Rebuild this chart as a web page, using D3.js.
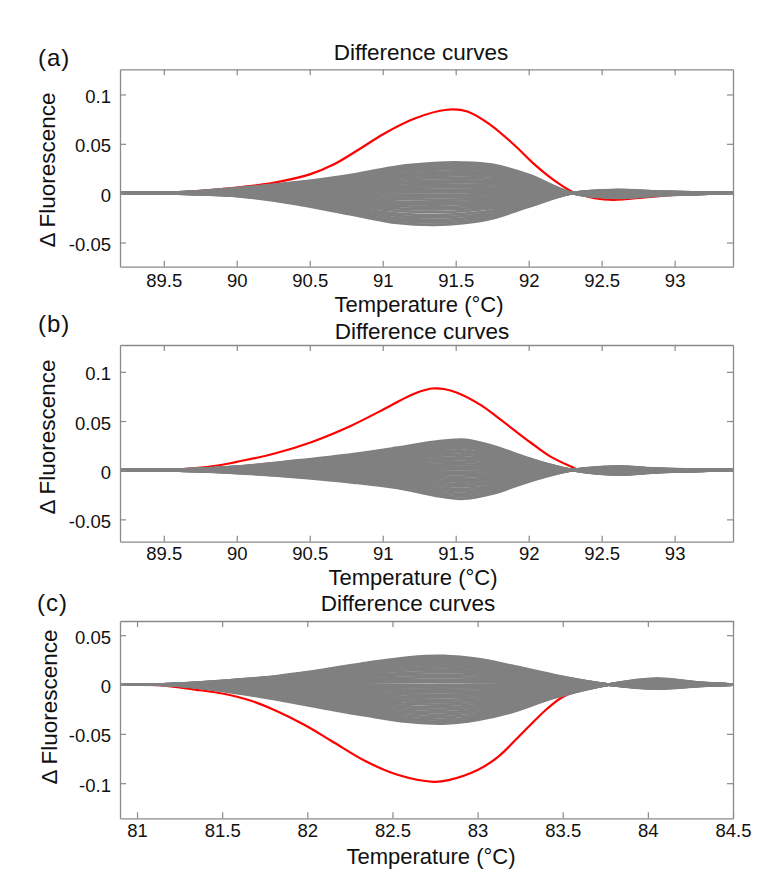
<!DOCTYPE html>
<html><head><meta charset="utf-8">
<script src="https://cdn.jsdelivr.net/npm/d3@7"></script>
<style>body{margin:0;background:#fff}</style>
</head><body>
<svg id="chart" width="780" height="880"></svg>
<script>
// ---------------- DATA ----------------
// Panel (a)
const gridA = [89.2, 89.6, 90.0, 90.4, 90.8, 91.1, 91.35, 91.55, 91.75, 92.0, 92.3, 92.6, 92.9, 93.4];
const grayA = [
 [0,.0008,.005,.0109,.0189,.027,.0304,.031,.0288,.0186,0,-.0047,-.0022,0],
 [0,.0007,.0047,.0103,.018,.0257,.0289,.0295,.0274,.0177,0,-.0044,-.0021,0],
 [0,.0007,.0045,.0098,.0171,.0244,.0274,.028,.026,.0168,0,-.0042,-.002,0],
 [0,.0007,.0042,.0091,.0159,.0226,.0255,.026,.0242,.0156,0,-.0039,-.0018,0],
 [0,.0006,.0039,.0086,.0149,.0213,.024,.0245,.0228,.0147,0,-.0037,-.0017,0],
 [0,.0006,.0035,.0077,.0134,.0191,.0216,.022,.0205,.0132,0,-.0033,-.0015,0],
 [0,.0005,.0032,.007,.0122,.0174,.0196,.02,.0186,.012,0,-.003,-.0014,0],
 [0,.0005,.0029,.0063,.011,.0157,.0176,.018,.0167,.0108,0,-.0027,-.0013,0],
 [0,.0004,.0025,.0054,.0095,.0135,.0152,.0155,.0144,.0093,0,-.0023,-.0011,0],
 [0,.0003,.0021,.0046,.0079,.0113,.0127,.013,.0121,.0078,0,-.002,-.0009,0],
 [0,.0003,.0018,.0039,.0067,.0096,.0108,.011,.0102,.0066,0,-.0017,-.0008,0],
 [0,.0002,.0014,.003,.0052,.0074,.0083,.0085,.0079,.0051,0,-.0013,-.0006,0],
 [0,.0002,.001,.0021,.0037,.0052,.0059,.006,.0056,.0036,0,-.0009,-.0004,0],
 [0,.0001,.0006,.0012,.0021,.003,.0034,.0035,.0033,.0021,0,-.0005,-.0002,0],
 [0,0,.0002,.0004,.0006,.0009,.001,.001,.0009,.0006,0,-.0002,-.0001,0],
 [0,0,-.0001,-.0005,-.001,-.0014,-.0015,-.0014,-.0012,-.0006,0,.0002,.0001,0],
 [0,-.0001,-.0004,-.0014,-.0028,-.0038,-.004,-.0038,-.0032,-.0017,0,.0004,.0002,0],
 [0,-.0001,-.0006,-.0022,-.0045,-.0061,-.0065,-.0062,-.0052,-.0028,0,.0007,.0003,0],
 [0,-.0001,-.0008,-.0031,-.0062,-.0085,-.009,-.0086,-.0072,-.0039,0,.0009,.0005,0],
 [0,-.0002,-.001,-.0039,-.0079,-.0108,-.0115,-.0109,-.0092,-.0049,0,.0012,.0006,0],
 [0,-.0002,-.0013,-.0048,-.0097,-.0132,-.014,-.0133,-.0112,-.006,0,.0014,.0007,0],
 [0,-.0002,-.0015,-.0056,-.0114,-.0155,-.0165,-.0157,-.0132,-.0071,0,.0017,.0008,0],
 [0,-.0003,-.0017,-.0065,-.0131,-.0179,-.019,-.0181,-.0152,-.0082,0,.0019,.001,0],
 [0,-.0003,-.002,-.0075,-.0152,-.0207,-.022,-.0209,-.0176,-.0095,0,.0022,.0011,0],
 [0,-.0004,-.0022,-.0083,-.0169,-.023,-.0245,-.0233,-.0196,-.0105,0,.0025,.0012,0],
 [0,-.0004,-.0024,-.0092,-.0186,-.0254,-.027,-.0257,-.0216,-.0116,0,.0027,.0014,0],
 [0,-.0004,-.0027,-.01,-.0204,-.0277,-.0295,-.028,-.0236,-.0127,0,.003,.0015,0],
 [0,-.0005,-.0029,-.0109,-.0221,-.0301,-.032,-.0304,-.0256,-.0138,0,.0032,.0016,0]
];
const redTempA = [89.2, 89.6, 90.0, 90.25, 90.5, 90.67, 90.85, 91.0, 91.21, 91.44, 91.58, 91.74, 91.9, 92.03, 92.17, 92.31, 92.45, 92.58, 92.81, 93.0, 93.2, 93.4];
const redValA  = [0, .001, .0057, .0105, .019, .0295, .0455, .0595, .0752, .0845, .0828, .069, .049, .0304, .0135, .0006, -.005, -.0068, -.004, -.0017, -.0005, 0];

// Panel (b)
const gridB = [89.2, 89.6, 90.0, 90.4, 90.8, 91.1, 91.35, 91.55, 91.75, 92.0, 92.3, 92.6, 92.9, 93.4];
const grayB = [
 [0,.0006,.0037,.0096,.0164,.0229,.0288,.031,.0248,.0121,0,-.0045,-.002,0],
 [0,.0006,.0035,.0091,.0156,.0218,.0274,.0295,.0236,.0115,0,-.0043,-.0019,0],
 [0,.0006,.0034,.0087,.0148,.0207,.026,.028,.0224,.0109,0,-.0041,-.0018,0],
 [0,.0005,.0031,.0081,.0138,.0192,.0242,.026,.0208,.0101,0,-.0038,-.0017,0],
 [0,.0005,.0029,.0076,.013,.0181,.0228,.0245,.0196,.0096,0,-.0036,-.0016,0],
 [0,.0005,.0027,.007,.0119,.0167,.0209,.0225,.018,.0088,0,-.0033,-.0015,0],
 [0,.0004,.0024,.0062,.0106,.0148,.0186,.02,.016,.0078,0,-.0029,-.0013,0],
 [0,.0004,.0022,.0056,.0095,.0133,.0167,.018,.0144,.007,0,-.0026,-.0012,0],
 [0,.0003,.0019,.0048,.0082,.0115,.0144,.0155,.0124,.006,0,-.0022,-.001,0],
 [0,.0003,.0016,.004,.0069,.0096,.0121,.013,.0104,.0051,0,-.0019,-.0008,0],
 [0,.0002,.0013,.0034,.0058,.0081,.0102,.011,.0088,.0043,0,-.0016,-.0007,0],
 [0,.0002,.001,.0026,.0045,.0063,.0079,.0085,.0068,.0033,0,-.0012,-.0006,0],
 [0,.0001,.0007,.0019,.0032,.0044,.0056,.006,.0048,.0023,0,-.0009,-.0004,0],
 [0,.0001,.0004,.0011,.0019,.0026,.0033,.0035,.0028,.0014,0,-.0005,-.0002,0],
 [0,0,.0001,.0003,.0005,.0007,.0009,.001,.0008,.0004,0,-.0001,-.0001,0],
 [0,0,-.0002,-.0004,-.0006,-.0009,-.0013,-.0015,-.0012,-.0006,0,.0002,.0001,0],
 [0,-.0001,-.0004,-.001,-.0017,-.0025,-.0035,-.004,-.0033,-.0016,0,.0005,.0002,0],
 [0,-.0001,-.0007,-.0016,-.0028,-.004,-.0057,-.0065,-.0053,-.0026,0,.0008,.0003,0],
 [0,-.0002,-.0009,-.0022,-.0039,-.0056,-.0079,-.009,-.0074,-.0036,0,.0012,.0005,0],
 [0,-.0002,-.0012,-.0028,-.0049,-.0071,-.0101,-.0115,-.0094,-.0046,0,.0015,.0006,0],
 [0,-.0002,-.0014,-.0034,-.006,-.0087,-.0123,-.014,-.0115,-.0056,0,.0018,.0007,0],
 [0,-.0003,-.0017,-.004,-.0071,-.0102,-.0145,-.0165,-.0135,-.0066,0,.0021,.0008,0],
 [0,-.0003,-.0019,-.0046,-.0082,-.0118,-.0167,-.019,-.0156,-.0076,0,.0025,.001,0],
 [0,-.0004,-.0022,-.0052,-.0092,-.0133,-.0189,-.0215,-.0176,-.0086,0,.0028,.0011,0],
 [0,-.0004,-.0024,-.0058,-.0103,-.0149,-.0211,-.024,-.0197,-.0096,0,.0031,.0012,0],
 [0,-.0005,-.0027,-.0064,-.0114,-.0164,-.0233,-.0265,-.0217,-.0106,0,.0034,.0013,0],
 [0,-.0005,-.0029,-.007,-.0125,-.018,-.0255,-.029,-.0238,-.0116,0,.0038,.0015,0]
];
const redTempB = [89.2, 89.5, 89.88, 90.0, 90.26, 90.51, 90.78, 91.01, 91.17, 91.26, 91.34, 91.42, 91.51, 91.67, 91.81, 92.02, 92.15, 92.29, 92.35, 92.6, 92.9, 93.4];
const redValB  = [0, 0, .005, .0085, .017, .0285, .045, .0622, .0748, .0803, .0831, .0826, .0788, .0664, .0511, .0274, .0138, .0037, 0, -.003, -.001, 0];

// Panel (c)
const gridC = [80.9, 81.2, 81.5, 81.8, 82.1, 82.35, 82.6, 82.8, 83.0, 83.2, 83.45, 83.77, 84.05, 84.3, 84.5];
const grayC = [
 [0,.0005,.0038,.0081,.0151,.022,.0276,.029,.0261,.0191,.0096,0,-.0041,-.0015,0],
 [0,.0005,.0036,.0077,.0143,.0209,.0261,.0275,.0248,.0182,.0091,0,-.0039,-.0014,0],
 [0,.0004,.0034,.0073,.0135,.0198,.0247,.026,.0234,.0172,.0086,0,-.0036,-.0013,0],
 [0,.0004,.0031,.0067,.0125,.0182,.0228,.024,.0216,.0158,.0079,0,-.0034,-.0012,0],
 [0,.0004,.0029,.0062,.0114,.0167,.0209,.022,.0198,.0145,.0073,0,-.0031,-.0011,0],
 [0,.0003,.0026,.0056,.0104,.0152,.019,.02,.018,.0132,.0066,0,-.0028,-.001,0],
 [0,.0003,.0023,.0049,.0091,.0133,.0166,.0175,.0158,.0116,.0058,0,-.0025,-.0009,0],
 [0,.0003,.002,.0042,.0078,.0114,.0143,.015,.0135,.0099,.005,0,-.0021,-.0008,0],
 [0,.0002,.0016,.0035,.0065,.0095,.0119,.0125,.0113,.0083,.0041,0,-.0018,-.0006,0],
 [0,.0002,.0013,.0028,.0052,.0076,.0095,.01,.009,.0066,.0033,0,-.0014,-.0005,0],
 [0,.0001,.001,.0021,.0039,.0057,.0071,.0075,.0068,.005,.0025,0,-.0011,-.0004,0],
 [0,.0001,.0007,.0014,.0026,.0038,.0048,.005,.0045,.0033,.0017,0,-.0007,-.0003,0],
 [0,0,.0003,.0007,.0013,.0019,.0024,.0025,.0023,.0017,.0008,0,-.0004,-.0001,0],
 [0,0,-.0001,-.0002,-.0003,-.0004,-.0005,-.0005,-.0005,-.0004,-.0002,0,.0001,0,0],
 [0,0,-.0005,-.0011,-.0018,-.0024,-.0029,-.003,-.0027,-.0021,-.001,0,.0005,.0002,0],
 [0,-.0001,-.0009,-.002,-.0034,-.0044,-.0053,-.0055,-.005,-.0039,-.0019,0,.0008,.0003,0],
 [0,-.0001,-.0013,-.003,-.0049,-.0064,-.0077,-.008,-.0073,-.0057,-.0027,0,.0012,.0004,0],
 [0,-.0001,-.0017,-.0039,-.0064,-.0084,-.0101,-.0105,-.0096,-.0075,-.0036,0,.0016,.0005,0],
 [0,-.0002,-.0021,-.0048,-.0079,-.0104,-.0125,-.013,-.0118,-.0092,-.0044,0,.002,.0007,0],
 [0,-.0002,-.0025,-.0057,-.0095,-.0124,-.0149,-.0155,-.0141,-.011,-.0053,0,.0023,.0008,0],
 [0,-.0002,-.0029,-.0067,-.011,-.0144,-.0173,-.018,-.0164,-.0128,-.0061,0,.0027,.0009,0],
 [0,-.0003,-.0033,-.0076,-.0125,-.0164,-.0197,-.0205,-.0187,-.0146,-.007,0,.0031,.001,0],
 [0,-.0003,-.0037,-.0085,-.014,-.0184,-.0221,-.023,-.0209,-.0163,-.0078,0,.0035,.0012,0],
 [0,-.0003,-.0041,-.0094,-.0156,-.0204,-.0245,-.0255,-.0232,-.0181,-.0087,0,.0038,.0013,0],
 [0,-.0004,-.0045,-.0104,-.0171,-.0224,-.0269,-.028,-.0255,-.0199,-.0095,0,.0042,.0014,0],
 [0,-.0004,-.0049,-.0113,-.0186,-.0244,-.0293,-.0305,-.0278,-.0217,-.0104,0,.0046,.0015,0],
 [0,-.0004,-.0053,-.0122,-.0201,-.0264,-.0317,-.033,-.03,-.0234,-.0112,0,.005,.0017,0],
 [0,-.0005,-.0057,-.0131,-.0217,-.0284,-.0341,-.0355,-.0323,-.0252,-.0121,0,.0053,.0018,0],
 [0,-.0005,-.006,-.0139,-.0229,-.03,-.036,-.0375,-.0341,-.0266,-.0128,0,.0056,.0019,0],
 [0,-.0005,-.0063,-.0146,-.0241,-.0316,-.0379,-.0395,-.0359,-.028,-.0134,0,.0059,.002,0]
];
const redTempC = [80.9, 81.02, 81.13, 81.37, 81.5, 81.66, 81.81, 81.99, 82.14, 82.34, 82.53, 82.74, 82.83, 83.0, 83.12, 83.26, 83.41, 83.5, 83.62, 83.77, 84.0, 84.3, 84.5];
const redValC  = [0, 0, -.0007, -.0058, -.0091, -.0159, -.026, -.0415, -.057, -.0775, -.0915, -.0986, -.0969, -.0867, -.0733, -.0496, -.0243, -.0126, -.005, 0, .003, .001, 0];

// Ticks
const xTicksAB = [89.5, 90, 90.5, 91, 91.5, 92, 92.5, 93];
const xLabelsAB = ["89.5", "90", "90.5", "91", "91.5", "92", "92.5", "93"];
const yTicksAB = [-0.05, 0, 0.05, 0.1];
const yLabelsAB = ["-0.05", "0", "0.05", "0.1"];
const xTicksC = [81, 81.5, 82, 82.5, 83, 83.5, 84, 84.5];
const xLabelsC = ["81", "81.5", "82", "82.5", "83", "83.5", "84", "84.5"];
const yTicksC = [-0.1, -0.05, 0, 0.05];
const yLabelsC = ["-0.1", "-0.05", "0", "0.05"];

const titleText = "Difference curves";
const xLabelText = "Temperature (°C)";
const yLabelText = "Δ Fluorescence";
const panelLetters = ["(a)", "(b)", "(c)"];

// ---------------- LAYOUT ----------------
const FONT = "'Liberation Sans', Arial, Helvetica, sans-serif";
const panels = [
  {letter: panelLetters[0], grid: gridA, gray: grayA, redT: redTempA, redV: redValA,
   xDomain: [89.2, 93.4], yDomain: [-0.0745, 0.1255], xTicks: xTicksAB, xLabels: xLabelsAB, yTicks: yTicksAB, yLabels: yLabelsAB,
   left: 120, right: 733, top: 69.3, bottom: 266.7,
   titleX: 421, titleY: 59.5, letterX: 38, letterY: 66, xLabX: 419, xLabY: 311.5, tickLabY: 287.5, yLabX: 55, yLabY: 170},
  {letter: panelLetters[1], grid: gridB, gray: grayB, redT: redTempB, redV: redValB,
   xDomain: [89.2, 93.4], yDomain: [-0.0727, 0.1273], xTicks: xTicksAB, xLabels: xLabelsAB, yTicks: yTicksAB, yLabels: yLabelsAB,
   left: 120, right: 733, top: 345, bottom: 541.7,
   titleX: 422, titleY: 339.3, letterX: 38, letterY: 331.5, xLabX: 413, xLabY: 585, tickLabY: 560, yLabX: 55, yLabY: 437},
  {letter: panelLetters[2], grid: gridC, gray: grayC, redT: redTempC, redV: redValC,
   xDomain: [80.9, 84.5], yDomain: [-0.1356, 0.0644], xTicks: xTicksC, xLabels: xLabelsC, yTicks: yTicksC, yLabels: yLabelsC,
   left: 120, right: 733, top: 621, bottom: 818.3,
   titleX: 408, titleY: 610.7, letterX: 37, letterY: 611, xLabX: 431, xLabY: 863.5, tickLabY: 837.5, yLabX: 57, yLabY: 707}
];

const svg = d3.select('#chart');
svg.append('rect').attr('width', 780).attr('height', 880).attr('fill', '#fff');

const BOX = '#8a8a8a';
const GRAY = '#808080';
const RED = '#ff0000';

function drawPanel(p) {
  const x = d3.scaleLinear().domain(p.xDomain).range([p.left, p.right]);
  const y = d3.scaleLinear().domain(p.yDomain).range([p.bottom, p.top]);
  const g = svg.append('g');
  const line = d3.line().x(d => x(d[0])).y(d => y(d[1])).curve(d3.curveCatmullRom.alpha(0.5));

  // red curve (below gray bundle)
  g.append('path')
    .datum(p.redT.map((t, i) => [t, p.redV[i]]))
    .attr('d', line).attr('fill', 'none').attr('stroke', RED).attr('stroke-width', 2.2);

  // gray curves
  g.selectAll('path.gray').data(p.gray).join('path')
    .attr('class', 'gray')
    .attr('d', vals => line(p.grid.map((t, i) => [t, vals[i]])))
    .attr('fill', 'none').attr('stroke', GRAY).attr('stroke-width', 2.8);

  // axes (box with inward ticks on all sides)
  const styleAxis = sel => {
    sel.select('.domain').attr('stroke', BOX).attr('stroke-width', 1.3);
    sel.selectAll('.tick line').attr('stroke', BOX).attr('stroke-width', 1.2);
    sel.selectAll('text').attr('font-family', FONT).attr('font-size', 18.5).attr('fill', '#111');
  };
  const gb = g.append('g').attr('transform', `translate(0,${p.bottom})`)
    .call(d3.axisBottom(x).tickValues(p.xTicks).tickSizeInner(-6).tickSizeOuter(0)
      .tickFormat((d, i) => p.xLabels[i]));
  styleAxis(gb);
  gb.selectAll('text').attr('y', p.tickLabY - p.bottom).attr('dy', 0);

  const gt = g.append('g').attr('transform', `translate(0,${p.top})`)
    .call(d3.axisTop(x).tickValues(p.xTicks).tickSizeInner(-6).tickSizeOuter(0).tickFormat(''));
  styleAxis(gt);

  const gl = g.append('g').attr('transform', `translate(${p.left},0)`)
    .call(d3.axisLeft(y).tickValues(p.yTicks).tickSizeInner(-6).tickSizeOuter(0).tickPadding(9)
      .tickFormat((d, i) => p.yLabels[i]));
  styleAxis(gl);
  gl.selectAll('text').attr('dy', '0.44em');

  const gr = g.append('g').attr('transform', `translate(${p.right},0)`)
    .call(d3.axisRight(y).tickValues(p.yTicks).tickSizeInner(-6).tickSizeOuter(0).tickFormat(''));
  styleAxis(gr);

  // texts
  g.append('text').attr('x', p.titleX).attr('y', p.titleY).attr('text-anchor', 'middle')
    .attr('font-family', FONT).attr('font-size', 22.5).attr('fill', '#111').text(titleText);
  g.append('text').attr('x', p.xLabX).attr('y', p.xLabY).attr('text-anchor', 'middle')
    .attr('font-family', FONT).attr('font-size', 22).attr('fill', '#111').text(xLabelText);
  g.append('text').attr('transform', `translate(${p.yLabX},${p.yLabY}) rotate(-90)`).attr('text-anchor', 'middle')
    .attr('font-family', FONT).attr('font-size', 22.5).attr('fill', '#111').text(yLabelText);
  g.append('text').attr('x', p.letterX).attr('y', p.letterY)
    .attr('font-family', FONT).attr('font-size', 24).attr('letter-spacing', 1).attr('fill', '#111').text(p.letter);
}

panels.forEach(drawPanel);
</script>
</body></html>
